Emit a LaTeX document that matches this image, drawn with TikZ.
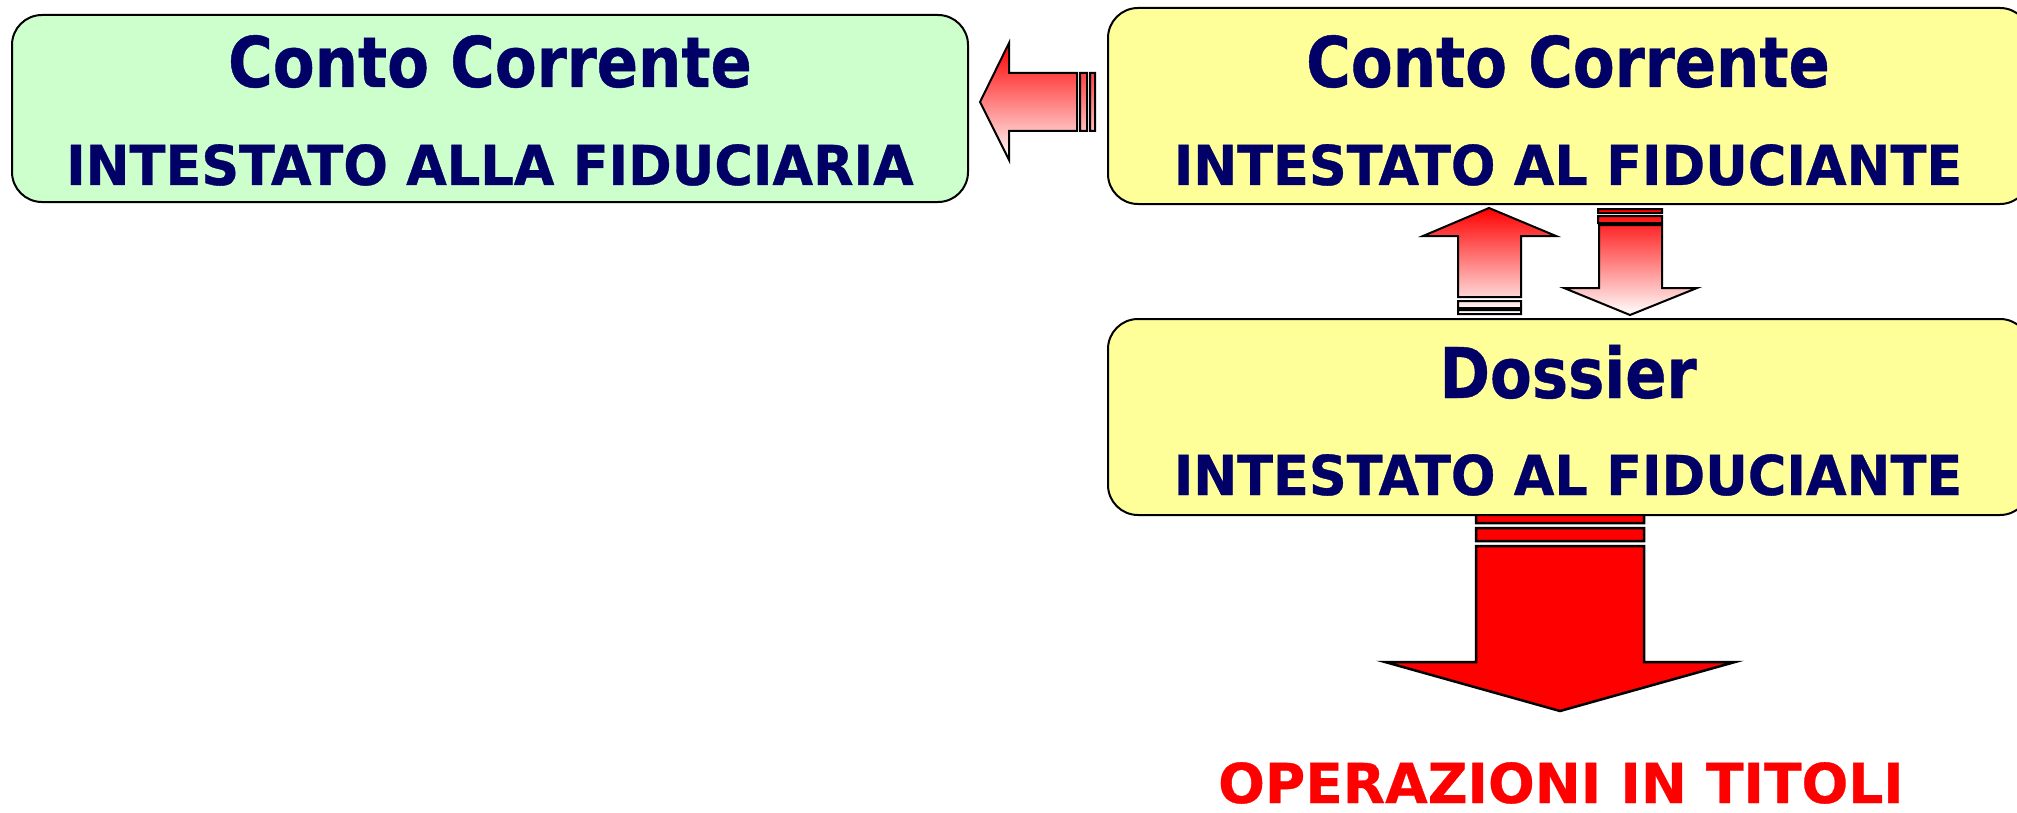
\documentclass[tikz,border=0pt]{standalone}
\usepackage{fontspec}
\setmainfont{DejaVu Sans}
\newfontfamily\titlefont[FakeStretch=0.87,FakeBold=0.6]{DejaVu Sans}
\newfontfamily\capsfont[FakeStretch=0.955,FakeBold=0.6]{DejaVu Sans}
\newfontfamily\redfont[FakeBold=0.6]{DejaVu Sans}
\definecolor{navy}{HTML}{000066}
\definecolor{mint}{HTML}{CCFFCC}
\definecolor{lemon}{HTML}{FFFF99}
\tikzset{
  box/.style={draw=black, line width=2pt, rounded corners=30pt, inner sep=0pt},
  titletext/.style={anchor=base, text=navy, inner sep=0pt, font=\titlefont\fontsize{70}{74}\selectfont\bfseries},
  subtext/.style={anchor=base, text=navy, inner sep=0pt, font=\capsfont\fontsize{55}{60}\selectfont\bfseries},
  redtext/.style={anchor=base, text=red, inner sep=0pt, font=\redfont\fontsize{55}{60}\selectfont\bfseries},
  gradarrow/.style={top color=red, bottom color=white, draw=black, line width=2pt, line join=miter},
  bigarrow/.style={fill=red, draw=black, line width=2.5pt, line join=miter}
}
\begin{document}
\begin{tikzpicture}[x=1pt,y=-1pt]
\useasboundingbox (0,0) rectangle (2017,813);
\clip (0,0) rectangle (2017,813);

% big red arrow (drawn under the Dossier box)
\filldraw[bigarrow]
  (1476,505) rectangle (1644,523)
  (1476,528) rectangle (1644,541)
  (1476,546) -- (1644,546) -- (1644,662) -- (1735,662) -- (1560,711) -- (1385,662) -- (1476,662) -- cycle;

% boxes
\node[box, fill=mint, minimum width=956pt, minimum height=187pt] (leftbox) at (490,108.5) {};
\node[box, fill=lemon, minimum width=922pt, minimum height=196pt] (contobox) at (1569,106) {};
\node[box, fill=lemon, minimum width=922pt, minimum height=196pt] (dossierbox) at (1569,417) {};

% texts
\node[titletext] (lt) at (490,87) {Conto Corrente};
\node[subtext] (ls) at (490,185) {INTESTATO ALLA FIDUCIARIA};
\node[titletext] (rt) at (1568,87) {Conto Corrente};
\node[subtext] (rs) at (1568,185) {INTESTATO AL FIDUCIANTE};
\node[titletext] (dt) at (1568,398) {Dossier};
\node[subtext] (ds) at (1568,495) {INTESTATO AL FIDUCIANTE};
\node[redtext] (op) at (1561,803) {OPERAZIONI IN TITOLI};

% left arrow
\shadedraw[gradarrow]
  (980,102) -- (1009,43) -- (1009,73) -- (1077,73) -- (1077,131) -- (1009,131) -- (1009,160) -- cycle
  (1080,73) rectangle (1087,131)
  (1090,73) rectangle (1095,131);

% up arrow
\shadedraw[gradarrow]
  (1489,208) -- (1556,236) -- (1521,236) -- (1521,297) -- (1458,297) -- (1458,236) -- (1423,236) -- cycle
  (1458,301) rectangle (1521,308)
  (1458,310) rectangle (1521,314);

% down arrow
\shadedraw[gradarrow]
  (1598,209) rectangle (1662,213)
  (1598,216) rectangle (1662,223)
  (1599,225) -- (1662,225) -- (1662,288) -- (1697,288) -- (1630,315) -- (1564,288) -- (1599,288) -- cycle;
\end{tikzpicture}
\end{document}
